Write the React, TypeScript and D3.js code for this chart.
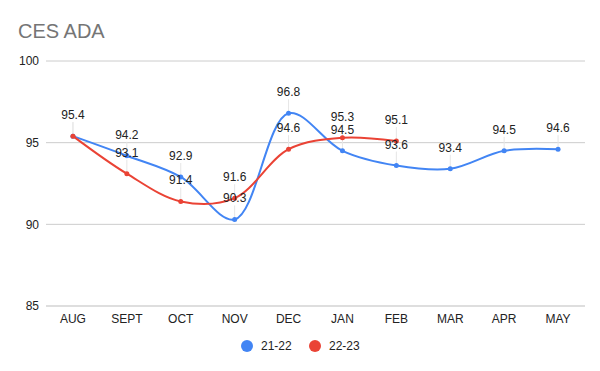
import { useRef, useEffect } from 'react';
import * as d3 from 'd3';

const WIDTH = 600;
const HEIGHT = 371;
const MARGIN = { top: 61, right: 15, bottom: 65, left: 46 };

const MONTHS = ['AUG', 'SEPT', 'OCT', 'NOV', 'DEC', 'JAN', 'FEB', 'MAR', 'APR', 'MAY'];
const SERIES_2122 = [95.4, 94.2, 92.9, 90.3, 96.8, 94.5, 93.6, 93.4, 94.5, 94.6];
const SERIES_2223 = [95.4, 93.1, 91.4, 91.6, 94.6, 95.3, 95.1];
const Y_TICKS = [85, 90, 95, 100];
const SERIES_NAMES = ['21-22', '22-23'];

const BLUE = '#4285f4';
const RED = '#ea4335';
const FONT = 'Arial, "Liberation Sans", sans-serif';

export default function App() {
  const svgRef = useRef<SVGSVGElement>(null);

  useEffect(() => {
    if (!svgRef.current) return;
    const innerWidth = WIDTH - MARGIN.left - MARGIN.right;
    const innerHeight = HEIGHT - MARGIN.top - MARGIN.bottom;

    const x = d3.scaleBand<string>().domain(MONTHS).range([0, innerWidth]);
    const y = d3.scaleLinear().domain([85, 100]).range([innerHeight, 0]);
    const cx = (i: number) => x(MONTHS[i])! + x.bandwidth() / 2;

    const svg = d3.select(svgRef.current);
    svg.selectAll('*').remove();

    // title
    svg.append('text')
      .attr('x', 18).attr('y', 38)
      .attr('fill', '#757575')
      .attr('font-size', '20px')
      .attr('font-family', FONT)
      .text('CES ADA');

    const g = svg.append('g').attr('transform', `translate(${MARGIN.left},${MARGIN.top})`);

    // grid
    g.append('g')
      .selectAll('line')
      .data(Y_TICKS)
      .join('line')
      .attr('x1', 0).attr('x2', innerWidth)
      .attr('y1', (d) => y(d)).attr('y2', (d) => y(d))
      .attr('stroke', (d) => (d === 85 ? '#bdbdbd' : '#cccccc'))
      .attr('stroke-width', 1);

    // y axis labels
    const yAxis = g.append('g').call(d3.axisLeft(y).tickValues(Y_TICKS).tickSize(0).tickPadding(7));
    yAxis.select('.domain').remove();
    yAxis.selectAll('.tick text')
      .attr('fill', '#222')
      .attr('font-size', '12px')
      .attr('font-family', FONT);

    // x axis labels
    const xAxis = g.append('g')
      .attr('transform', `translate(0,${innerHeight})`)
      .call(d3.axisBottom(x).tickSize(0).tickPadding(8));
    xAxis.select('.domain').remove();
    xAxis.selectAll('.tick text')
      .attr('fill', '#222')
      .attr('font-size', '12px')
      .attr('font-family', FONT);

    const series = [
      { values: SERIES_2122, color: BLUE },
      { values: SERIES_2223, color: RED },
    ];

    // leader lines
    series.forEach((s) => {
      s.values.forEach((v, i) => {
        g.append('line')
          .attr('x1', cx(i)).attr('x2', cx(i))
          .attr('y1', y(v) - 14).attr('y2', y(v))
          .attr('stroke', '#e6e6e6')
          .attr('stroke-width', 1);
      });
    });

    const line = d3.line<number>()
      .x((_, i) => cx(i))
      .y((d) => y(d))
      .curve(d3.curveCatmullRom.alpha(0.5));

    series.forEach((s) => {
      g.append('path')
        .datum(s.values)
        .attr('fill', 'none')
        .attr('stroke', s.color)
        .attr('stroke-width', 2)
        .attr('stroke-linejoin', 'round')
        .attr('d', line);
      g.append('g')
        .selectAll('circle')
        .data(s.values)
        .join('circle')
        .attr('cx', (_, i) => cx(i))
        .attr('cy', (d) => y(d))
        .attr('r', 2.5)
        .attr('fill', s.color);
    });

    // value labels; a label identical to the one already at that point is drawn once
    series.forEach((s, si) => {
      const items = s.values
        .map((v, i) => ({ v, i }))
        .filter(({ v, i }) => si === 0 || SERIES_2122[i] !== v);
      g.append('g')
        .selectAll('text')
        .data(items)
        .join('text')
        .attr('x', (d) => cx(d.i))
        .attr('y', (d) => y(d.v) - 17)
        .attr('text-anchor', 'middle')
        .attr('fill', '#222')
        .attr('font-size', '12px')
        .attr('font-family', FONT)
        .text((d) => d.v.toFixed(1));
    });

    // legend
    const legend = svg.append('g').attr('transform', 'translate(0,346)');
    const items = [
      { name: SERIES_NAMES[0], color: BLUE, x: 247 },
      { name: SERIES_NAMES[1], color: RED, x: 315 },
    ];
    items.forEach((it) => {
      legend.append('circle').attr('cx', it.x).attr('cy', 0).attr('r', 6).attr('fill', it.color);
      legend.append('text')
        .attr('x', it.x + 14).attr('y', 4)
        .attr('fill', '#222')
        .attr('font-size', '12px')
        .attr('font-family', FONT)
        .text(it.name);
    });
  }, []);

  return (
    <div style={{ position: 'absolute', left: 0, top: 0, background: '#fff' }}>
      <svg ref={svgRef} width={WIDTH} height={HEIGHT} style={{ display: 'block' }} />
    </div>
  );
}
